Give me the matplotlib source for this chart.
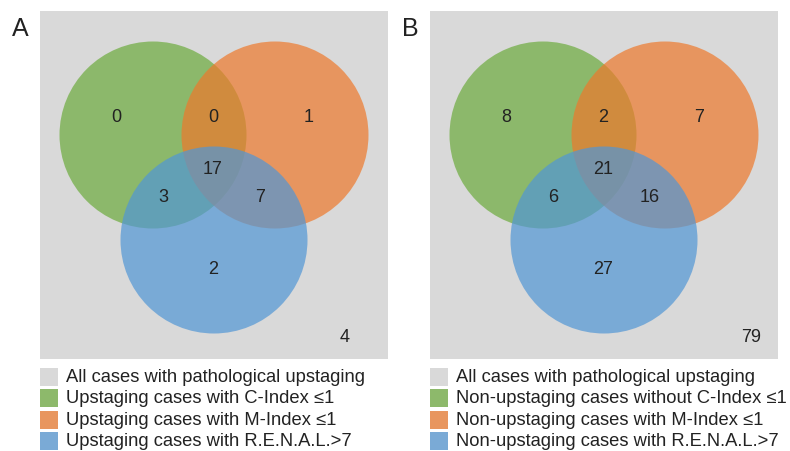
import matplotlib
matplotlib.use("Agg")
import matplotlib.pyplot as plt
from matplotlib.patches import Circle, Rectangle

plt.rcParams['font.family'] = ['Liberation Sans', 'DejaVu Sans']

# ---- data ----
panel_labels = ["A", "B"]
# region counts
counts_A = {"c_only": 0, "cm": 0, "m_only": 1, "cmr": 17, "cr": 3, "mr": 7, "r_only": 2, "none": 4}
counts_B = {"c_only": 8, "cm": 2, "m_only": 7, "cmr": 21, "cr": 6, "mr": 16, "r_only": 27, "none": 79}
legend_A = ["All cases with pathological upstaging",
            "Upstaging cases with C-Index \u22641",
            "Upstaging cases with M-Index \u22641",
            "Upstaging cases with R.E.N.A.L.>7"]
legend_B = ["All cases with pathological upstaging",
            "Non-upstaging cases without C-Index \u22641",
            "Non-upstaging cases with M-Index \u22641",
            "Non-upstaging cases with R.E.N.A.L.>7"]

# ---- style ----
gray = "#d9d9d9"
alpha = 0.7
circ_cols = ["#6cab3c", "#ee792b", "#5196d5"]
solid_cols = [gray, "#8db96b", "#e8965f", "#7aaad6"]

fig = plt.figure(figsize=(7.9, 4.51), dpi=100)
ax = fig.add_axes([0, 0, 1, 1])
ax.set_xlim(0, 790)
ax.set_ylim(451, 0)
ax.axis("off")

# layout (pixel units)
offsets = [0, 390]
box = (40, 11, 348, 348)
centers = [(153, 135), (275, 135), (214, 240)]
radius = 93.5
label_pos = {"c_only": (116, 117), "cm": (213, 117), "m_only": (309, 117),
             "cmr": (213, 169), "cr": (163, 198), "mr": (260, 198),
             "r_only": (213, 270), "none_A": (345, 338), "none_B": (361, 338)}

for k, (off, counts, leg, lab) in enumerate(zip(offsets, [counts_A, counts_B],
                                                   [legend_A, legend_B], panel_labels)):
    ax.add_patch(Rectangle((box[0] + off, box[1]), box[2], box[3], color=gray, lw=0))
    for (cx, cy), col in zip(centers, circ_cols):
        ax.add_patch(Circle((cx + off, cy), radius, color=col, alpha=alpha, lw=0))
    for key, val in counts.items():
        if key == "none":
            x, y = label_pos["none_A" if k == 0 else "none_B"]
        else:
            x, y = label_pos[key]
        ax.text(x + off, y, str(val), ha="center", va="center", fontsize=13, color="#222222")
    ax.text(20 + off, 29, lab, ha="center", va="center", fontsize=18, color="#222222")
    for i, (txt, col) in enumerate(zip(leg, solid_cols)):
        y = 377 + i * 21.3
        ax.add_patch(Rectangle((40 + off, y - 9), 18, 18, color=col, lw=0))
        ax.text(66 + off, y + 0.5, txt, ha="left", va="center", fontsize=13.2, color="#222222")

fig.savefig("out.png", dpi=100)
